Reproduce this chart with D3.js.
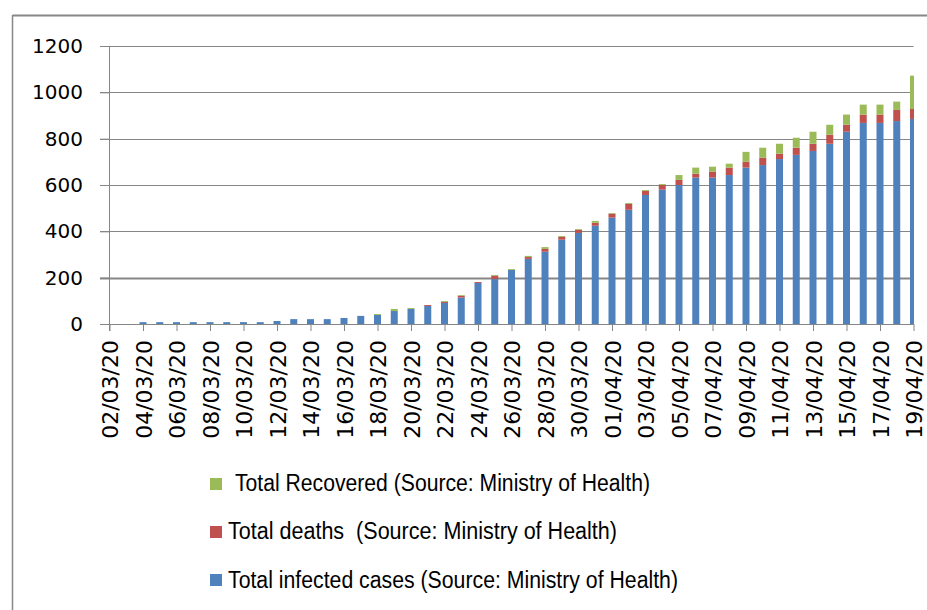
<!DOCTYPE html>
<html>
<head>
<meta charset="utf-8">
<script src="https://cdn.jsdelivr.net/npm/d3@7"></script>
<style>
	body { margin: 0; background: #fff; }
	svg { display: block; }
	.axis path { display: none; }
	.axis line { stroke: #868686; }
	.y-axis text { font-family: "DejaVu Sans", sans-serif; font-size: 20px; fill: #000; }
	.x-axis text { font-family: "DejaVu Sans", sans-serif; font-size: 22px; fill: #000; }
	.legend text { font-family: "Liberation Sans", Arial, sans-serif; font-size: 23px; fill: #000; }
</style>
</head>
<body>
<div id="chart"></div>
<script>

// dates (every day, labels on every second one)
let dates = ["02/03/20","03/03/20","04/03/20","05/03/20","06/03/20","07/03/20","08/03/20","09/03/20",
	"10/03/20","11/03/20","12/03/20","13/03/20","14/03/20","15/03/20","16/03/20","17/03/20",
	"18/03/20","19/03/20","20/03/20","21/03/20","22/03/20","23/03/20","24/03/20","25/03/20",
	"26/03/20","27/03/20","28/03/20","29/03/20","30/03/20","31/03/20","01/04/20","02/04/20",
	"03/04/20","04/04/20","05/04/20","06/04/20","07/04/20","08/04/20","09/04/20","10/04/20",
	"11/04/20","12/04/20","13/04/20","14/04/20","15/04/20","16/04/20","17/04/20","18/04/20","19/04/20"];

let tickLabels = dates.filter((d, i) => i % 2 == 0);

// series (stacked segment sizes)
let infected = [0,0,8,8,8,8,8,8,8,8,13,21,21,21,26,35,39,56,65,78,91,114,177,194,
	233,281,312,364,393,424,459,493,557,580,600,632,632,643,675,686,712,730,747,778,830,868,868,876,885];
let deaths = [0,0,0,0,0,0,0,0,0,0,0,0,0,0,0,0,0,0,0,4,4,8,4,15,
	0,8,12,12,14,13,17,25,17,20,22,17,26,32,26,32,23,31,31,39,30,36,36,48,43];
let recovered = [0,0,0,0,0,0,0,0,0,0,0,0,0,0,0,0,4,9,4,0,4,3,0,3,
	4,5,8,4,3,8,3,4,4,4,21,26,21,17,42,43,43,43,52,43,44,43,43,36,144];

let yTicks = [0, 200, 400, 600, 800, 1000, 1200];

let seriesKeys = ["infected", "deaths", "recovered"];
let seriesColors = ["#4F81BD", "#C0504D", "#9BBB59"];
let legendLabels = [
	"Total Recovered (Source: Ministry of Health)",
	"Total deaths  (Source: Ministry of Health)",
	"Total infected cases (Source: Ministry of Health)"
];

class StackedBarChart {

	constructor(parentElement) {
		this.parentElement = parentElement;
		this.data = dates.map((d, i) => ({
			date: d,
			infected: infected[i],
			deaths: deaths[i],
			recovered: recovered[i]
		}));
		this.colorScale = d3.scaleOrdinal().domain(seriesKeys).range(seriesColors);
		this.initVis();
	}

	initVis() {
		let vis = this;

		vis.width = 927;
		vis.height = 610;
		vis.plot = {left: 109.5, right: 913.5, top: 46, bottom: 324};

		vis.svg = d3.select("#" + vis.parentElement).append("svg")
			.attr("width", vis.width)
			.attr("height", vis.height);

		// outer frame (top and left only)
		vis.svg.append("line")
			.attr("x1", 12.5).attr("x2", vis.width)
			.attr("y1", 15.5).attr("y2", 15.5)
			.attr("stroke", "#888").attr("stroke-width", 2);
		vis.svg.append("line")
			.attr("x1", 12.5).attr("x2", 12.5)
			.attr("y1", 15).attr("y2", vis.height)
			.attr("stroke", "#888").attr("stroke-width", 1.5);

		// Scales
		vis.x = d3.scalePoint()
			.domain(dates)
			.range([vis.plot.left, vis.plot.right]);

		vis.y = d3.scaleLinear()
			.domain([0, 1200])
			.range([vis.plot.bottom, vis.plot.top]);

		// gridlines
		vis.svg.append("g")
			.selectAll("line")
			.data(yTicks)
			.join("line")
			.attr("x1", 100)
			.attr("x2", vis.plot.right)
			.attr("y1", d => Math.round(vis.y(d)) + 0.5)
			.attr("y2", d => Math.round(vis.y(d)) + 0.5)
			.attr("stroke", "#868686")
			.attr("stroke-width", d => d == 200 ? 2 : 1);

		// Stack data
		vis.stackedData = d3.stack().keys(seriesKeys)(vis.data);

		vis.svg.append("defs").append("clipPath")
			.attr("id", "clip")
			.append("rect")
			.attr("x", vis.plot.left)
			.attr("y", 0)
			.attr("width", vis.plot.right - vis.plot.left + 0.5)
			.attr("height", vis.plot.bottom);

		vis.barWidth = 7;

		vis.svg.append("g")
			.attr("clip-path", "url(#clip)")
			.selectAll("g")
			.data(vis.stackedData)
			.join("g")
			.attr("fill", d => vis.colorScale(d.key))
			.selectAll("rect")
			.data(d => d)
			.join("rect")
			.attr("x", d => vis.x(d.data.date) - vis.barWidth / 2)
			.attr("width", vis.barWidth)
			.attr("y", d => vis.y(d[1]))
			.attr("height", d => vis.y(d[0]) - vis.y(d[1]));

		// Axes
		vis.yAxis = d3.axisLeft(vis.y)
			.tickValues(yTicks)
			.tickSize(9)
			.tickPadding(17)
			.tickFormat(d3.format("d"));

		vis.svg.append("g")
			.attr("class", "y-axis axis")
			.attr("transform", "translate(109,0)")
			.call(vis.yAxis);

		// y axis line, down to the first x tick
		vis.svg.append("line")
			.attr("x1", 109.5).attr("x2", 109.5)
			.attr("y1", vis.plot.top).attr("y2", vis.plot.bottom + 7)
			.attr("stroke", "#868686");

		vis.xAxis = d3.axisBottom(vis.x)
			.tickValues(tickLabels)
			.tickSize(7)
			.tickPadding(0);

		let xg = vis.svg.append("g")
			.attr("class", "x-axis axis")
			.attr("transform", "translate(0," + vis.plot.bottom + ")")
			.call(vis.xAxis);

		xg.selectAll("text")
			.attr("text-anchor", "end")
			.attr("transform", "rotate(-90)")
			.attr("x", -16)
			.attr("y", 0)
			.attr("dy", "8px");

		// x axis line
		vis.svg.append("line")
			.attr("x1", vis.plot.left).attr("x2", vis.plot.right)
			.attr("y1", vis.plot.bottom + 0.5).attr("y2", vis.plot.bottom + 0.5)
			.attr("stroke", "#868686");

		// Legend (recovered on top)
		let legendItems = [
			{key: "recovered", label: legendLabels[0], y: 491, x0: 235, x1: 650, sq: 478},
			{key: "deaths", label: legendLabels[1], y: 539, x0: 228, x1: 617, sq: 526},
			{key: "infected", label: legendLabels[2], y: 588, x0: 228, x1: 678, sq: 574}
		];

		let legend = vis.svg.append("g").attr("class", "legend");

		legend.selectAll("rect")
			.data(legendItems)
			.join("rect")
			.attr("x", 210)
			.attr("y", d => d.sq)
			.attr("width", 12)
			.attr("height", 12)
			.attr("fill", d => vis.colorScale(d.key));

		legend.selectAll("text")
			.data(legendItems)
			.join("text")
			.attr("x", d => d.x0)
			.attr("y", d => d.y)
			.attr("textLength", d => d.x1 - d.x0)
			.attr("lengthAdjust", "spacingAndGlyphs")
			.style("white-space", "pre")
			.text(d => d.label);
	}
}

new StackedBarChart("chart");

</script>
</body>
</html>
